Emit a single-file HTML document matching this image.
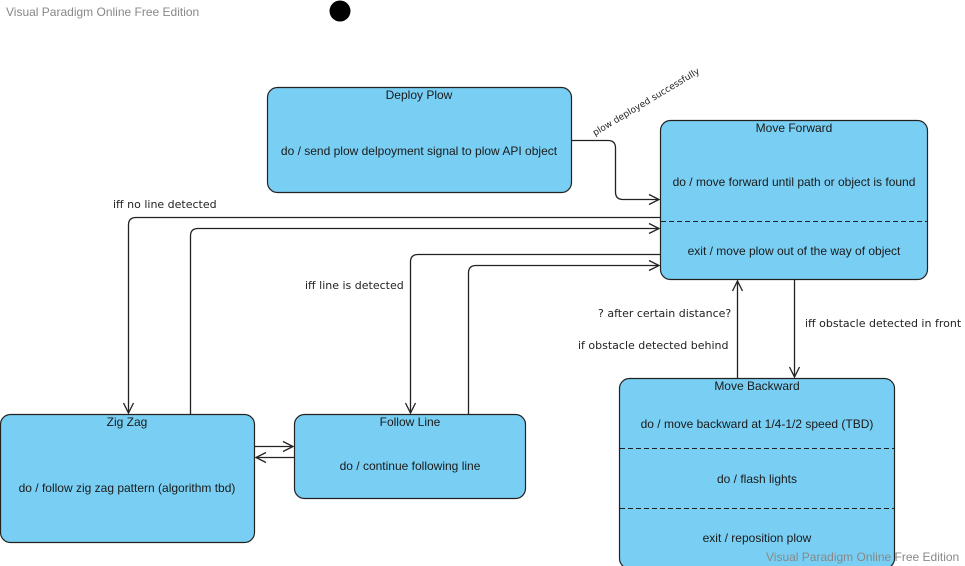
<!DOCTYPE html>
<html><head><meta charset="utf-8"><style>
body{margin:0;background:#fff}
svg{display:block}
text{font-family:"Liberation Sans",sans-serif;font-size:12px;fill:#1a1a1a}
.l{font-family:"DejaVu Sans",sans-serif;font-size:11px;fill:#222}
.w{fill:#888;font-size:12px}
</style></head><body>
<svg width="965" height="566" viewBox="0 0 965 566" xmlns="http://www.w3.org/2000/svg">
<text x="6" y="16" class="w">Visual Paradigm Online Free Edition</text>
<circle cx="340" cy="11" r="10.5" fill="#000"/>
<g fill="#79cff3" stroke="#222" stroke-width="1.2">
<rect x="267.5" y="87.5" width="304" height="105" rx="10"/>
<rect x="660.5" y="120.5" width="267" height="159" rx="10"/>
<rect x="619.5" y="378.5" width="275" height="190" rx="10"/>
<rect x="0.5" y="414.5" width="254" height="128" rx="10"/>
<rect x="294.5" y="414.5" width="231" height="84" rx="10"/>
</g>
<g stroke="#222" stroke-width="1" stroke-dasharray="5,3">
<line x1="661" y1="221.5" x2="927" y2="221.5"/>
<line x1="620" y1="448.5" x2="894" y2="448.5"/>
<line x1="620" y1="508.5" x2="894" y2="508.5"/>
</g>
<g text-anchor="middle">
<text x="419" y="99">Deploy Plow</text>
<text x="419" y="155">do / send plow delpoyment signal to plow API object</text>
<text x="794" y="132">Move Forward</text>
<text x="794" y="186">do / move forward until path or object is found</text>
<text x="794" y="255">exit / move plow out of the way of object</text>
<text x="757" y="390">Move Backward</text>
<text x="757" y="428">do / move backward at 1/4-1/2 speed (TBD)</text>
<text x="757" y="483">do / flash lights</text>
<text x="757" y="542">exit / reposition plow</text>
<text x="127" y="426">Zig Zag</text>
<text x="127" y="492">do / follow zig zag pattern (algorithm tbd)</text>
<text x="410" y="426">Follow Line</text>
<text x="410" y="470">do / continue following line</text>
</g>
<g fill="none" stroke="#222" stroke-width="1.3">
<path d="M571 140.5 H608 Q615.5 140.5 615.5 148 V192 Q615.5 199.5 623 199.5 H659"/>
<path d="M649 194.5 L659 199.5 L649 204.5"/>
<path d="M660 217.5 H136 Q128.5 217.5 128.5 225 V413"/>
<path d="M123.5 403 L128.5 413 L133.5 403"/>
<path d="M190.5 414 V236 Q190.5 228.5 198 228.5 H659"/>
<path d="M649 223.5 L659 228.5 L649 233.5"/>
<path d="M660 254.5 H418 Q410.5 254.5 410.5 262 V413"/>
<path d="M405.5 403 L410.5 413 L415.5 403"/>
<path d="M468.5 414 V273 Q468.5 265.5 476 265.5 H659"/>
<path d="M649 260.5 L659 265.5 L649 270.5"/>
<path d="M255 446.5 H293"/>
<path d="M283 441.5 L293 446.5 L283 451.5"/>
<path d="M294 457.5 H256"/>
<path d="M266 452.5 L256 457.5 L266 462.5"/>
<path d="M794.5 280 V377"/>
<path d="M789.5 367 L794.5 377 L799.5 367"/>
<path d="M737.5 378 V281"/>
<path d="M732.5 291 L737.5 281 L742.5 291"/>
</g>
<text class="l" x="113" y="208">iff no line detected</text>
<text class="l" x="305" y="289">iff line is detected</text>
<text class="l" x="598" y="317">? after certain distance?</text>
<text class="l" x="578" y="349">if obstacle detected behind</text>
<text class="l" x="805" y="327">iff obstacle detected in front</text>
<text class="l" style="font-size:9px" transform="translate(595,136) rotate(-31)">plow deployed successfully</text>
<text x="766" y="561" class="w">Visual Paradigm Online Free Edition</text>
</svg>
</body></html>
